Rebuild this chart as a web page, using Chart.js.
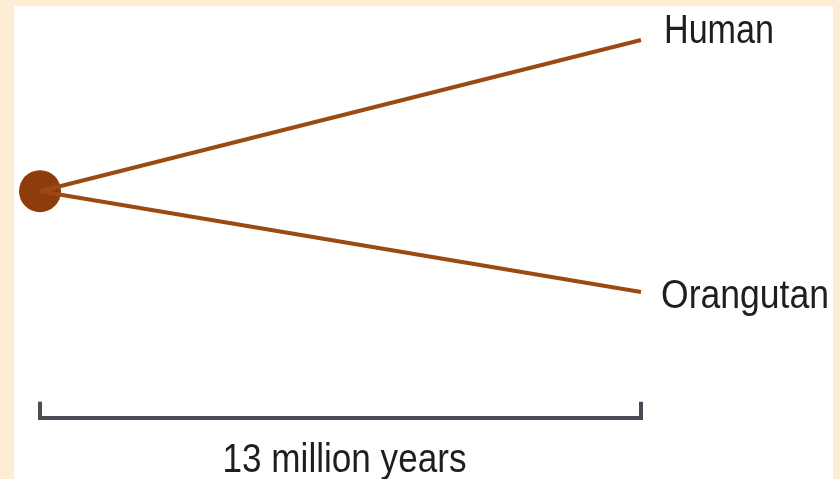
<!DOCTYPE html>
<html>
<head>
<meta charset="utf-8">
<script src="https://cdn.jsdelivr.net/npm/chart.js@4.4.1/dist/chart.umd.min.js"></script>
<style>
  html, body { margin: 0; padding: 0; }
  body { width: 840px; height: 479px; background: #fbeed4; position: relative; overflow: hidden; }
  #panel { position: absolute; left: 14px; top: 6px; width: 819px; height: 473px; background: #fff; }
  #wrap { position: absolute; left: 0; top: 0; width: 840px; height: 479px; }
</style>
</head>
<body>
<div id="panel"></div>
<div id="wrap"><canvas id="treeChart"></canvas></div>
<script>
// tree: time from the common ancestor, in million years
const taxa = ['Human', 'Orangutan'];
const tipAge = [13, 13];
const tipY = [1, 0];
const rootAge = 0;
const rootY = 0.4;
// scale bar
const scaleBar = [0, 13];
const scaleBarY = -0.5;
const scaleLabel = '13 million years';

const branchColor = '#9c4a14';
const textFont = '40px "Liberation Sans", Arial, sans-serif';

const branches = taxa.map((name, i) => ({
    label: name,
    data: [{ x: rootAge, y: rootY }, { x: tipAge[i], y: tipY[i] }],
    showLine: true,
    borderColor: branchColor,
    borderWidth: 4,
    pointRadius: 0,
    clip: false
}));

const tick = 0.064;

// the original lettering is narrow, so squeeze text to a given width
function fitText(ctx, text, x, y, width) {
    const w = ctx.measureText(text).width;
    ctx.save();
    ctx.translate(x, y);
    ctx.scale(width / w, 1);
    ctx.fillText(text, 0, 0);
    ctx.restore();
}

const labelPlugin = {
    id: 'labels',
    afterDatasetsDraw(chart) {
        const ctx = chart.ctx;
        const xs = chart.scales.x;
        const ys = chart.scales.y;
        ctx.save();
        ctx.font = textFont;
        ctx.fillStyle = '#1e1e22';
        ctx.textAlign = 'left';
        ctx.textBaseline = 'alphabetic';
        // tip labels
        const offs = [[23, 3, 110], [20, 16, 168]];
        taxa.forEach((name, i) => {
            fitText(ctx, name, xs.getPixelForValue(tipAge[i]) + offs[i][0], ys.getPixelForValue(tipY[i]) + offs[i][1], offs[i][2]);
        });
        // scale bar label
        const mid = (xs.getPixelForValue(scaleBar[0]) + xs.getPixelForValue(scaleBar[1])) / 2;
        fitText(ctx, scaleLabel, mid - 118, ys.getPixelForValue(scaleBarY) + 54, 244);
        ctx.restore();
    }
};

new Chart(document.getElementById('treeChart'), {
    type: 'scatter',
    data: {
        datasets: [
            ...branches,
            {
                label: 'ancestor',
                data: [{ x: rootAge, y: rootY }],
                pointRadius: 21,
                pointBackgroundColor: '#8e3c0c',
                pointBorderColor: '#8e3c0c',
                pointBorderWidth: 0,
                clip: false
            },
            {
                label: 'scale',
                data: [
                    { x: scaleBar[0], y: scaleBarY + tick },
                    { x: scaleBar[0], y: scaleBarY },
                    { x: scaleBar[1], y: scaleBarY },
                    { x: scaleBar[1], y: scaleBarY + tick }
                ],
                showLine: true,
                borderColor: '#4b4b55',
                borderWidth: 4,
                borderJoinStyle: 'miter',
                pointRadius: 0,
                clip: false
            }
        ]
    },
    options: {
        responsive: true,
        maintainAspectRatio: false,
        animation: false,
        layout: { padding: { left: 40, right: 199, top: 40, bottom: 61 } },
        plugins: { legend: { display: false }, tooltip: { enabled: false } },
        scales: {
            x: { type: 'linear', min: 0, max: 13, display: false },
            y: { type: 'linear', min: -0.5, max: 1, display: false }
        }
    },
    plugins: [labelPlugin]
});
</script>
</body>
</html>
